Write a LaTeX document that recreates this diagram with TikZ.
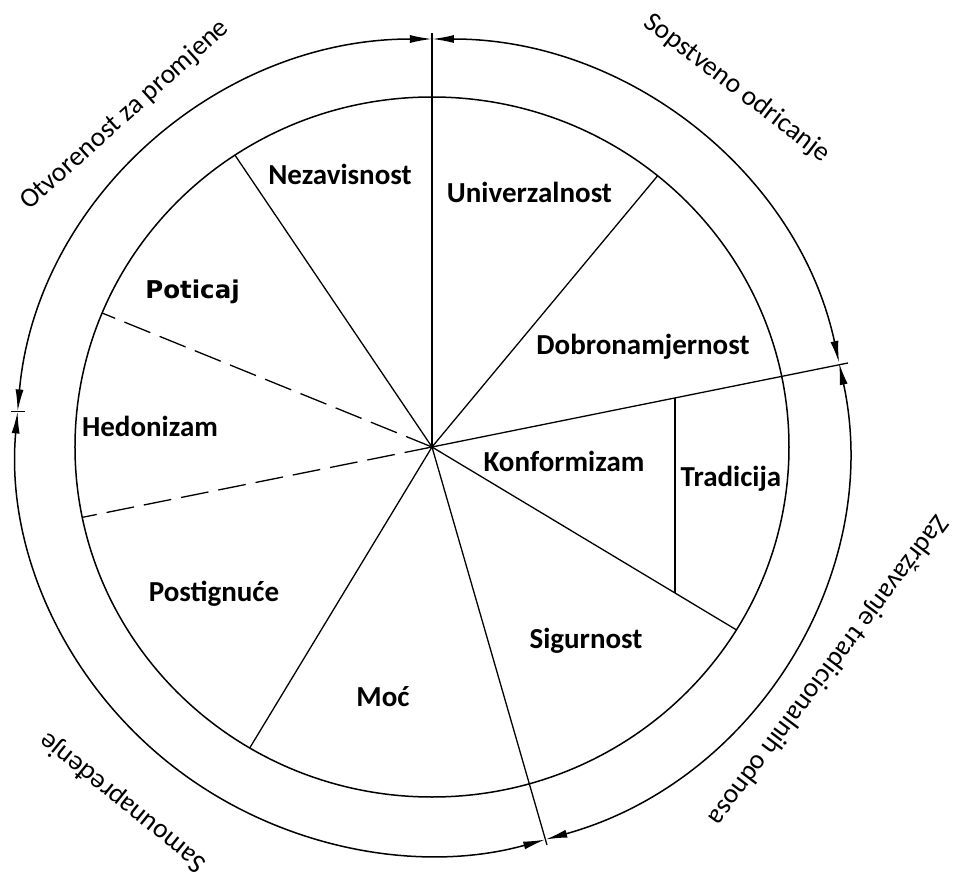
\documentclass[tikz,border=0pt]{standalone}
\usepackage{fontspec}
\setmainfont{Carlito}
\newfontfamily\poticajfont{DejaVu Sans}
\usetikzlibrary{arrows.meta}
\tikzset{
  val/.style={font=\fontsize{29}{31}\selectfont\bfseries,anchor=base},
  grp/.style={font=\fontsize{27.5}{30}\selectfont},
  ring/.style={line width=1.5pt,{Latex[length=22pt,width=8pt]}-{Latex[length=22pt,width=8pt]}},
}
\begin{document}
\begin{tikzpicture}[x=1pt,y=1pt,line width=1.3pt]
\useasboundingbox (-432,-431) rectangle (524,447);
\coordinate (c) at (0,0);

% inner wheel
\draw[line width=1.5pt] (c) ellipse[x radius=357,y radius=350];
\draw (c) -- (0,414);
\draw (c) -- (123.5:357 and 350);
\draw (c) -- (50.8:357 and 350);
\draw (c) -- (416,84);
\draw[dash pattern=on 28pt off 10pt] (c) -- (157.5:357 and 350);
\draw[dash pattern=on 28pt off 10pt] (c) -- (191.6:357 and 350);
\draw (c) -- (239.3:357 and 350);
\draw (c) -- (115,-398);
\draw (c) -- (-31.5:357 and 350);
\draw (243,49) -- (243,-146);

% outer ring
\draw[ring] (90:416 and 408) arc[start angle=90,end angle=175,x radius=416,y radius=408];
\draw[ring] (11.9:416 and 408) arc[start angle=11.9,end angle=90,x radius=416,y radius=408];
\draw[ring] (-74.2:416 and 408) arc[start angle=-74.2,end angle=11.9,x radius=416,y radius=408];
\draw[ring] (175:416 and 408) arc[start angle=175,end angle=285.8,x radius=416,y radius=408];
\draw (175:416 and 408) ++(-7,0) -- ++(14,0);

\node[val] (nez) at (-92,262) {Nezavisnost};
\node[val] (uni) at (97.5,244) {Univerzalnost};
\node[val,font=\poticajfont\fontsize{24.5}{26}\selectfont\bfseries] (pot) at (-239.5,148) {Poticaj};
\node[val] (dob) at (211,92) {Dobronamjernost};
\node[val] (hed) at (-282,10) {Hedonizam};
\node[val] (kon) at (132,-25) {Konformizam};
\node[val] (tra) at (299,-40) {Tradicija};
\node[val] (pos) at (-218,-154) {Postignuće};
\node[val] (moc) at (-49,-259) {Moć};
\node[val] (sig) at (154,-201) {Sigurnost};

\node[grp,rotate=42] (otv) at (-307,332) {Otvorenost za promjene};
\node[grp,rotate=-37.4] (sop) at (305,359) {Sopstveno odricanje};
\node[grp,rotate=-127] (zad) at (396,-223) {Zadržavanje tradicionalnih odnosa};
\node[grp,rotate=141] (sam) at (-309,-355) {Samounapređenje};
\end{tikzpicture}
\end{document}
